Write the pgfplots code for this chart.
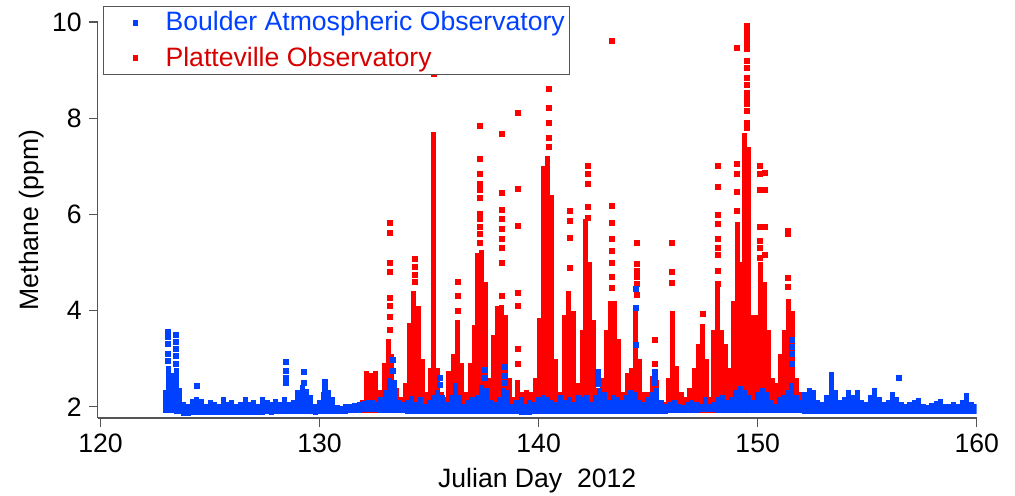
\documentclass[border=0pt]{standalone}
\usepackage{fontspec}
\setmainfont{Liberation Sans}
\usepackage{pgfplots}
\usepackage{pgfplotstable}
\pgfplotsset{compat=1.18}
\definecolor{pBlue}{RGB}{0,64,255}
\definecolor{pRed}{RGB}{255,0,0}
\definecolor{tRed}{RGB}{215,0,0}
\definecolor{axgray}{RGB}{85,85,85}

% red (Platteville): column ranges of the dense point clouds
\pgfplotstableread{
d lo hi
131.95 1.86 2.15
132.15 1.86 2.75
132.35 1.86 2.7
132.55 1.86 2.75
132.75 1.86 2.35
132.95 1.86 2.9
133.15 1.86 3.4
133.3 1.86 3.1
133.5 1.86 2.4
133.7 1.86 2.2
133.9 1.86 2.5
134.1 1.86 3.75
134.3 1.86 4.4
134.5 1.86 4.1
134.7 1.86 3.0
134.9 1.86 2.3
135.05 1.86 2.8
135.2 1.86 7.72
135.38 1.86 2.8
135.55 1.86 2.3
135.75 1.86 2.2
135.9 1.86 2.75
136.1 1.86 3.1
136.3 1.86 3.8
136.5 1.86 2.9
136.7 1.86 2.3
136.9 1.86 2.9
137.05 1.86 3.7
137.22 1.86 5.2
137.4 1.86 5.25
137.58 1.86 4.6
137.78 1.86 2.6
137.95 1.86 3.5
138.12 1.86 4.1
138.3 1.86 4.12
138.47 1.86 3.9
138.65 1.86 2.6
138.85 1.86 2.2
139.05 1.86 2.55
139.25 1.86 2.3
139.45 1.86 2.35
139.65 1.86 2.3
139.85 1.86 2.6
140.02 1.86 3.85
140.2 1.86 7.0
140.4 1.86 7.22
140.58 1.86 6.4
140.78 1.86 3.0
140.98 1.86 2.3
141.18 1.86 3.9
141.38 1.86 4.4
141.58 1.86 4.0
141.78 1.86 2.5
141.98 1.86 3.6
142.16 1.86 5.9
142.34 1.86 5.0
142.52 1.86 3.8
142.72 1.86 2.4
142.92 1.86 2.6
143.12 1.86 3.6
143.3 1.86 4.2
143.48 1.86 4.2
143.66 1.86 3.4
143.86 1.86 2.3
144.04 1.86 2.7
144.22 1.86 2.8
144.42 1.86 4.05
144.6 1.86 3.0
144.8 1.86 2.3
145.0 1.86 2.3
145.18 1.86 2.65
145.36 1.86 2.55
145.55 1.86 2.1
145.75 1.86 2.1
145.95 1.86 2.6
146.12 1.86 4.0
146.3 1.86 2.85
146.5 1.86 2.3
146.7 1.86 2.2
146.9 1.86 2.4
147.1 1.86 2.8
147.3 1.86 3.3
147.48 1.86 3.72
147.66 1.86 3.0
147.84 1.86 2.2
148.0 1.86 3.6
148.18 1.86 4.5
148.36 1.86 3.6
148.54 1.86 3.3
148.72 1.86 2.8
148.9 1.86 4.2
149.07 1.86 5.85
149.24 1.86 5.0
149.42 1.86 7.7
149.6 1.86 7.4
149.78 1.86 3.9
149.95 1.86 3.9
150.12 1.86 5.0
150.3 1.86 4.6
150.48 1.86 3.6
150.68 1.86 2.6
150.88 1.86 2.5
151.06 1.86 3.1
151.24 1.86 3.6
151.42 1.86 4.25
151.58 1.86 4.0
151.76 1.86 2.6
151.94 1.86 2.3
152.1 1.86 2.1
}\redcols

% blue (Boulder): column ranges of the dense point clouds
\pgfplotstableread{
d lo hi
122.95 1.88 2.35
123.1 1.86 2.85
123.3 1.86 2.7
123.45 1.84 2.8
123.6 1.84 2.4
123.8 1.81 2.1
124.0 1.81 2.05
124.2 1.82 2.17
124.4 1.83 2.2
124.6 1.82 2.17
124.8 1.82 2.05
125.0 1.83 2.15
125.2 1.82 2.1
125.4 1.82 2.05
125.6 1.83 2.2
125.8 1.82 2.1
126.0 1.83 2.15
126.2 1.82 2.05
126.4 1.83 2.1
126.6 1.83 2.2
126.8 1.82 2.1
127.0 1.83 2.15
127.2 1.83 2.05
127.4 1.83 2.2
127.6 1.84 2.15
127.8 1.83 2.1
128.0 1.84 2.17
128.2 1.84 2.1
128.4 1.84 2.2
128.6 1.84 2.1
128.8 1.84 2.15
129.0 1.85 2.35
129.2 1.85 2.45
129.4 1.85 2.37
129.6 1.84 2.25
129.8 1.83 2.05
130.0 1.84 2.15
130.2 1.84 2.3
130.4 1.84 2.35
130.6 1.84 2.2
130.8 1.84 2.03
131.0 1.85 2.02
131.2 1.85 2.05
131.4 1.86 2.05
131.6 1.86 2.07
131.8 1.88 2.1
132.0 1.9 2.13
132.2 1.9 2.15
132.4 1.9 2.15
132.6 1.9 2.1
132.8 1.88 2.2
133.0 1.88 2.35
133.2 1.88 2.6
133.4 1.87 2.55
133.6 1.86 2.15
133.8 1.86 2.1
134.0 1.85 2.15
134.2 1.85 2.23
134.4 1.85 2.1
134.6 1.85 2.2
134.8 1.85 2.05
135.0 1.85 2.15
135.2 1.85 2.25
135.4 1.85 2.35
135.6 1.85 2.25
135.8 1.85 2.1
136.0 1.85 2.25
136.2 1.85 2.5
136.4 1.85 2.25
136.6 1.85 2.05
136.8 1.85 2.15
137.0 1.85 2.2
137.2 1.85 2.25
137.4 1.85 2.45
137.6 1.85 2.4
137.8 1.85 2.15
138.0 1.85 2.1
138.2 1.85 2.2
138.4 1.85 2.4
138.6 1.85 2.35
138.8 1.84 2.05
139.0 1.84 2.15
139.2 1.82 2.2
139.4 1.82 2.05
139.6 1.83 2.15
139.8 1.84 2.1
140.0 1.85 2.2
140.2 1.85 2.25
140.4 1.85 2.2
140.6 1.85 2.15
140.8 1.85 2.1
141.0 1.85 2.25
141.2 1.85 2.15
141.4 1.85 2.2
141.6 1.85 2.1
141.8 1.85 2.25
142.0 1.85 2.2
142.2 1.85 2.25
142.4 1.85 2.1
142.6 1.85 2.25
142.8 1.85 2.4
143.0 1.85 2.3
143.2 1.85 2.15
143.4 1.85 2.25
143.6 1.85 2.2
143.8 1.85 2.15
144.0 1.85 2.25
144.2 1.85 2.35
144.4 1.85 2.3
144.6 1.85 2.15
144.8 1.85 2.1
145.0 1.85 2.2
145.2 1.85 2.3
145.4 1.85 2.4
145.6 1.85 2.15
145.8 1.85 2.05
146.0 1.86 2.1
146.2 1.86 2.15
146.4 1.86 2.05
146.6 1.86 2.03
146.8 1.86 2.1
147.0 1.88 2.15
147.2 1.88 2.1
147.4 1.9 2.05
147.6 1.9 2.2
147.8 1.9 2.05
148.0 1.9 2.1
148.2 1.88 2.2
148.4 1.86 2.25
148.6 1.86 2.15
148.8 1.86 2.2
149.0 1.86 2.35
149.2 1.86 2.43
149.4 1.86 2.35
149.6 1.86 2.25
149.8 1.86 2.15
150.0 1.86 2.3
150.2 1.86 2.4
150.4 1.86 2.3
150.6 1.86 2.15
150.8 1.86 2.05
151.0 1.86 2.2
151.2 1.86 2.25
151.4 1.86 2.35
151.55 1.86 2.5
151.75 1.86 2.25
151.95 1.86 2.15
152.15 1.85 2.3
152.35 1.85 2.4
152.55 1.85 2.35
152.75 1.85 2.15
152.95 1.85 2.1
153.15 1.85 2.25
153.35 1.85 2.72
153.55 1.85 2.35
153.75 1.85 2.15
153.95 1.85 2.2
154.15 1.85 2.35
154.35 1.85 2.25
154.55 1.85 2.35
154.75 1.85 2.15
154.95 1.85 2.1
155.15 1.85 2.25
155.35 1.85 2.4
155.55 1.85 2.2
155.75 1.85 2.1
155.95 1.85 2.15
156.15 1.85 2.3
156.35 1.85 2.2
156.55 1.85 2.1
156.75 1.85 2.05
156.95 1.85 2.1
157.15 1.85 2.15
157.35 1.85 2.19
157.55 1.85 2.05
157.75 1.84 2.03
157.95 1.84 2.07
158.15 1.84 2.13
158.35 1.84 2.17
158.55 1.84 2.05
158.75 1.84 2.05
158.95 1.84 2.1
159.15 1.84 2.05
159.35 1.84 2.15
159.55 1.84 2.29
159.75 1.84 2.1
159.95 1.84 2.05
}\bluecols

\begin{document}
\begin{tikzpicture}
\useasboundingbox (-48.85pt,-38.5pt) rectangle (458.65pt,209pt);
\begin{axis}[
  at={(0pt,0pt)}, anchor=south west,
  scale only axis, width=439.5pt, height=198pt,
  xmin=119.87, xmax=160, ymin=1.766, ymax=10,
  axis lines*=left,
  axis line style={-, draw=axgray, line width=0.6pt},
  xtick={120,130,140,150,160}, ytick={2,4,6,8,10},
  tick align=outside, major tick length=4.5pt,
  tick style={draw=axgray, line width=0.6pt},
  /pgf/number format/assume math mode=true,
  /pgf/number format/1000 sep={},
  tick label style={font=\fontsize{13.3}{16}\selectfont},
  label style={font=\fontsize{13.3}{16}\selectfont},
  xlabel={Julian Day\ \ 2012},
  ylabel={Methane (ppm)},
  xlabel style={at={(axis description cs:0.5,-0.157)}, anchor=center},
  ylabel style={at={(axis description cs:-0.0747,0.5)}, anchor=center},
  legend image code/.code={\path[draw=none, fill=none] (0pt,0pt) (28.5pt,0pt); \draw[#1] plot coordinates {(13.5pt,0pt)};},
  legend style={at={(axis description cs:0,1)}, anchor=north west,
    xshift=2.65pt, yshift=8pt, draw=axgray, line width=0.6pt,
    inner xsep=2.5pt, inner ysep=2.5pt, row sep=6.5pt,
    nodes={inner sep=0pt},
    font=\fontsize{13.3}{16}\selectfont},
  legend cell align=left,
]
\addlegendimage{only marks, mark=square*, mark size=1.1pt, pBlue}
\addlegendentry[text=pBlue]{Boulder Atmospheric Observatory}
\addlegendimage{only marks, mark=square*, mark size=1.1pt, pRed}
\addlegendentry[text=tRed]{Platteville Observatory}

% Platteville
\addplot[forget plot, draw=none, mark=none,
  error bars/.cd, y dir=plus, y explicit, error mark=none,
  error bar style={line width=2.5pt, draw=pRed}]
  table[x=d, y=lo, y error plus expr=\thisrow{hi}-\thisrow{lo}] {\redcols};
\addplot[forget plot, only marks, mark=square*, mark size=1.25pt, color=pRed]
  coordinates {
  (133.22,3.6) (133.22,3.86) (133.22,4.1) (133.22,4.27) (133.22,4.8) (133.22,5.0) (133.22,5.62) (133.22,5.83)
  (134.36,4.6) (134.36,4.75) (134.36,4.9) (134.36,5.08)
  (135.2,8.92) (135.2,9.85)
  (136.3,4.0) (136.3,4.3) (136.3,4.59)
  (137.3,5.4) (137.3,5.6) (137.3,5.73) (137.3,5.9) (137.3,6.0) (137.3,6.35) (137.3,6.5) (137.3,6.64) (137.3,6.85) (137.3,7.16) (137.3,7.84)
  (138.33,4.3) (138.33,5.0) (138.33,5.3) (138.33,5.5) (138.33,5.7) (138.33,5.9) (138.33,6.1) (138.33,6.45) (138.33,7.67)
  (139.07,2.9) (139.07,3.2) (139.07,4.1) (139.07,4.37) (139.07,5.76) (139.07,6.53) (139.07,8.11)
  (140.48,7.4) (140.48,7.6) (140.48,7.9) (140.48,8.22) (140.48,8.6) (140.48,9.13) (140.48,9.33) (140.48,9.55)
  (141.44,4.88) (141.44,5.52) (141.44,5.87) (141.44,6.08)
  (142.26,5.93) (142.26,6.15) (142.26,6.64) (142.26,6.85) (142.26,7.0)
  (143.35,4.48) (143.35,4.7) (143.35,5.0) (143.35,5.25) (143.35,5.5) (143.35,5.83) (143.35,6.18) (143.35,9.6)
  (144.5,4.32) (144.5,4.56) (144.5,4.7) (144.5,4.83) (144.5,4.98) (144.5,5.4)
  (145.3,2.9) (145.3,3.4)
  (146.1,4.58) (146.1,4.8) (146.1,5.4)
  (147.5,3.94)
  (148.2,4.56) (148.2,4.83) (148.2,5.15) (148.2,5.3) (148.2,5.5) (148.2,5.8) (148.2,5.98) (148.2,6.58) (148.2,7.0)
  (149.05,6.08) (149.05,6.46) (149.05,6.85) (149.05,7.05) (149.05,9.46)
  (149.5,7.8) (149.5,7.9) (149.5,8.16) (149.5,8.3) (149.5,8.4) (149.5,8.53) (149.5,8.7) (149.5,8.84) (149.5,9.05) (149.5,9.2) (149.5,9.44) (149.5,9.57) (149.5,9.7) (149.5,9.8) (149.5,9.92)
  (150.1,5.1) (150.1,5.3) (150.1,5.45) (150.1,5.73) (150.1,6.5) (150.1,6.85) (150.1,7.0)
  (150.35,5.15) (150.35,5.73) (150.35,6.5) (150.35,6.87)
  (151.4,4.5) (151.4,4.67) (151.4,5.6) (151.4,5.65)
  };

% Boulder
\addplot[forget plot, draw=none, mark=none,
  error bars/.cd, y dir=plus, y explicit, error mark=none,
  error bar style={line width=2.5pt, draw=pBlue}]
  table[x=d, y=lo, y error plus expr=\thisrow{hi}-\thisrow{lo}] {\bluecols};
\addplot[forget plot, only marks, mark=square*, mark size=1.25pt, color=pBlue]
  coordinates {
  (123.08,2.95) (123.08,3.1) (123.08,3.3) (123.08,3.45) (123.08,3.55)
  (123.45,2.9) (123.45,3.05) (123.45,3.2) (123.45,3.35) (123.45,3.49)
  (124.4,2.43)
  (128.45,2.5) (128.45,2.6) (128.45,2.75) (128.45,2.93)
  (129.3,2.5) (129.3,2.72)
  (130.25,2.3) (130.25,2.4) (130.25,2.51)
  (133.35,2.75) (133.35,2.97)
  (135.5,2.45) (135.5,2.6)
  (137.55,2.6) (137.55,2.76)
  (138.45,2.5) (138.45,2.65) (138.45,2.82)
  (142.7,2.48) (142.7,2.6) (142.7,2.72)
  (144.45,3.28) (144.45,4.05) (144.45,4.46)
  (145.3,2.49) (145.3,2.6) (145.3,2.72)
  (151.55,2.9) (151.55,3.1) (151.55,3.25) (151.55,3.38)
  (156.45,2.59)
  };
\end{axis}
\end{tikzpicture}
\end{document}
